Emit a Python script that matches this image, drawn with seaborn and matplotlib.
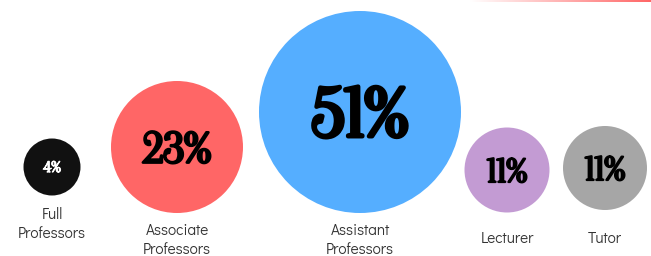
import numpy as np
import pandas as pd
import matplotlib
matplotlib.use("Agg")
import matplotlib.pyplot as plt
import matplotlib.patheffects as pe
from matplotlib.colors import LinearSegmentedColormap
import seaborn as sns

# ---- data ----
categories = ["Full Professors", "Associate Professors", "Assistant Professors", "Lecturer", "Tutor"]
labels = ["Full\nProfessors", "Associate\nProfessors", "Assistant\nProfessors", "Lecturer", "Tutor"]
percentages = [4, 23, 51, 11, 11]
title = "Academic Staff Profile"

# ---- layout / style ----
x_pos = [52, 177, 360, 507, 605]
y_pos = [167, 147, 112, 170, 168]
radius_px = [28.5, 66, 101, 42.5, 42]
label_y = [207, 223, 223, 231, 231]
colors = ["#111111", "#ff6666", "#55aeff", "#c39bd3", "#a6a6a6"]
text_colors = ["white", "black", "black", "black", "black"]
pct_sizes = [11, 31, 50, 24, 24]
pct_stroke = [0.8, 2.0, 3.2, 1.6, 1.6]

W, H, DPI = 651, 256, 100
sns.set_theme(style="white")
fig = plt.figure(figsize=(W / DPI, H / DPI), dpi=DPI)
ax = fig.add_axes([0, 0, 1, 1])

df = pd.DataFrame({"category": categories, "x": x_pos, "y": y_pos, "pct": percentages})
size_map = {c: (2 * r * 72 / DPI) ** 2 for c, r in zip(categories, radius_px)}
sns.scatterplot(data=df, x="x", y="y", hue="category", palette=dict(zip(categories, colors)),
                size="category", sizes=size_map, legend=False, linewidth=0, ax=ax)

ax.set_xlim(0, W)
ax.set_ylim(H, 0)
ax.axis("off")

for i, row in df.iterrows():
    ax.text(row.x, row.y, f"{row.pct}%", ha="center", va="center_baseline", color=text_colors[i],
            fontsize=pct_sizes[i], family=["Oranienbaum", "DejaVu Serif"],
            path_effects=[pe.withStroke(linewidth=pct_stroke[i], foreground=text_colors[i])])
    ax.text(row.x, label_y[i], labels[i], ha="center", va="top", color="#333333",
            fontsize=11, family=["Didact Gothic", "DejaVu Sans"], linespacing=1.35)

# title (cut at the top edge, as in the reference)
ax.text(10, -0.5, title, ha="left", va="baseline", color="#b03a3a", fontsize=27,
        fontweight="bold", family=["Poppins", "DejaVu Sans"], zorder=4)

# gradient rule top right
cmap = LinearSegmentedColormap.from_list("fade", ["#ffffff", "#ff6666"])
grad = np.linspace(0, 1, 256)[None, :]
ax.imshow(grad, cmap=cmap, extent=[470, W, 2.5, 0], aspect="auto", zorder=1)
ax.set_xlim(0, W)
ax.set_ylim(H, 0)

fig.savefig("out.png", dpi=DPI)
